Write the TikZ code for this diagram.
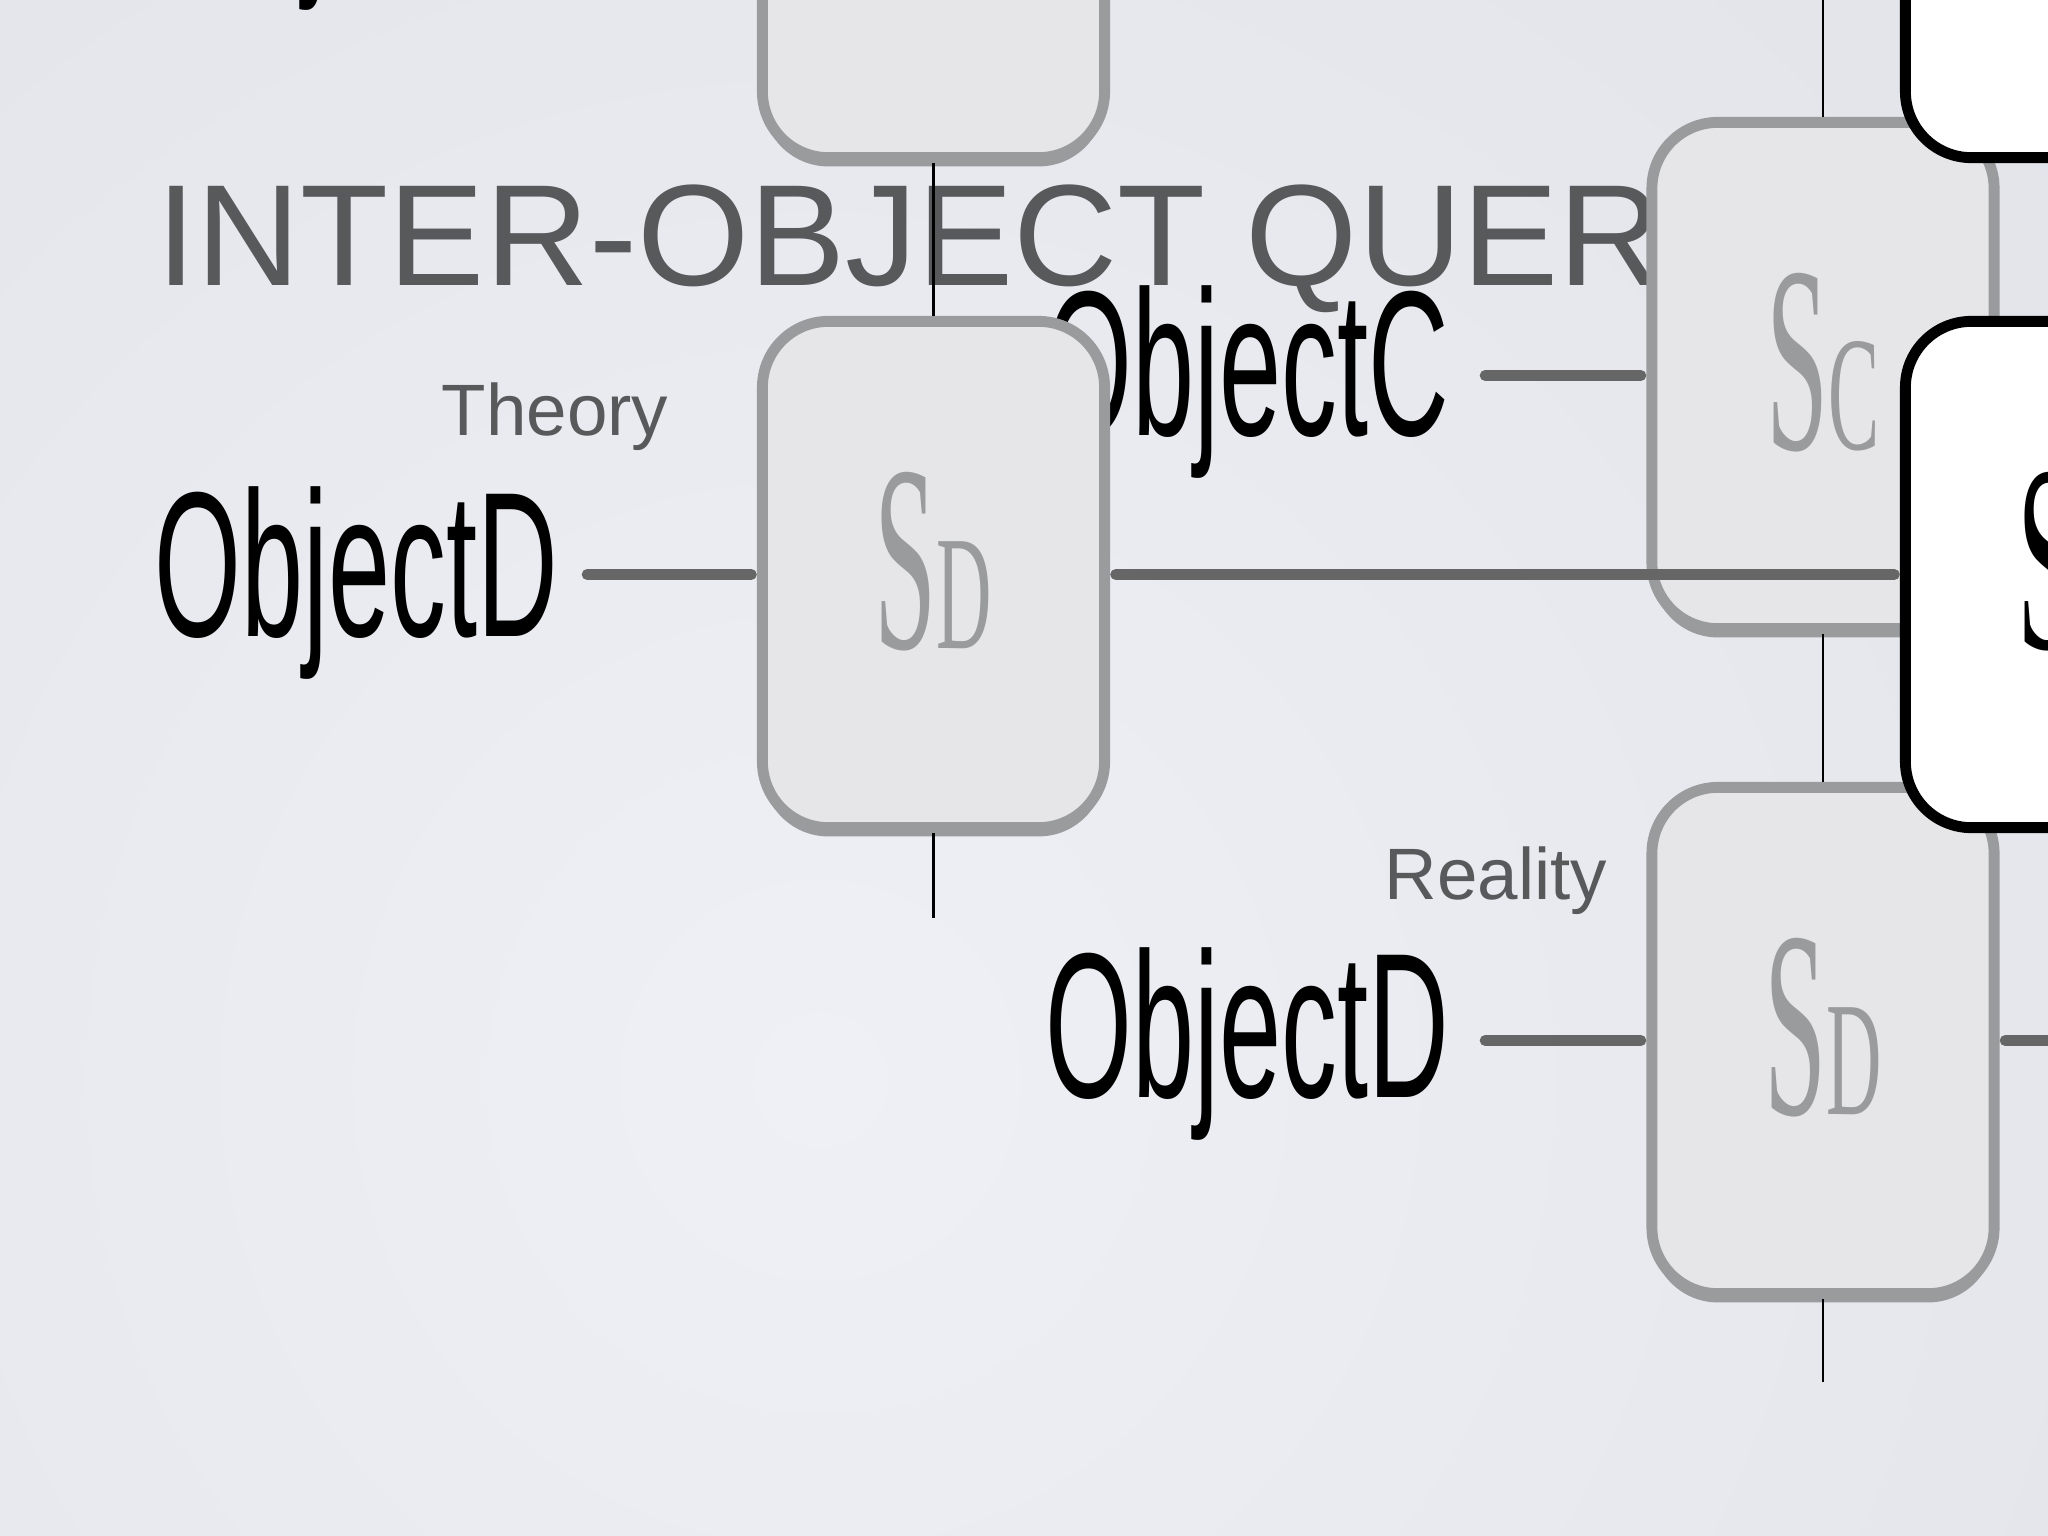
\documentclass[tikz,border=0pt]{standalone}
\usepackage{fontspec}
\usepackage{graphicx}
\usepackage{xcolor}
\setmainfont{Liberation Sans}
\newfontfamily\serifS{Liberation Serif}
\usetikzlibrary{shadows}

\definecolor{bgdark}{HTML}{D8DBE2}
\definecolor{bglight}{HTML}{EFF0F5}
\definecolor{titlegray}{HTML}{58595B}
\definecolor{boxline}{HTML}{9A9B9D}
\definecolor{boxfill}{HTML}{E6E6E8}
\definecolor{wirecol}{HTML}{666666}

\newcommand{\slab}[1]{\scalebox{0.42}[1]{\fontsize{75.7}{76}\selectfont S}\scalebox{0.47}[1]{\fontsize{46.4}{47}\selectfont #1}}
\newcommand{\objlab}[1]{\scalebox{0.54}[1]{\fontsize{58.8}{60}\selectfont #1}}

\tikzset{
  boxbase/.style={line width=3.1pt, rounded corners=0.66cm, minimum width=3.42cm, minimum height=5.06cm, inner sep=0pt, text depth=8pt, font=\serifS},
  sbox/.style={boxbase, draw=boxline, fill=boxfill, text=boxline, drop shadow={shadow xshift=0pt, shadow yshift=-2.5pt, fill=boxline, opacity=1}},
  wbox/.style={boxbase, draw=black, fill=white, text=black},
  objtext/.style={inner sep=0pt, text=black},
  sidetext/.style={inner sep=0pt, text=titlegray, font=\fontsize{20.7}{24}\selectfont},
  wire/.style={draw=wirecol, line width=3.1pt, line cap=round},
  stem/.style={draw=black, line width=0.6pt}
}

\begin{document}
\begin{tikzpicture}[x=0.01cm, y=-0.01cm]
\path[use as bounding box, clip] (0,0) rectangle (2048,1536);
\fill[bgdark] (0,0) rectangle (2048,1536);
\shade[inner color=bglight, outer color=bgdark] (820,1080) circle (28cm);

\node[objtext, anchor=base west] (objtop) at (153,-33) {\objlab{Object}};
\node[inner sep=0pt, text=titlegray, anchor=base west, font=\fontsize{41}{48}\selectfont] (title) at (156,285) {INTER-OBJECT QUER};
\node[sidetext, anchor=base west] (theory) at (441,435) {Theory};
\node[sidetext, anchor=base west] (reality) at (1384,899) {Reality};
\node[objtext, anchor=base east] (objD) at (559,636) {\objlab{ObjectD}};
\node[objtext, anchor=base east] (objC) at (1450,435) {\objlab{ObjectC}};
\node[objtext, anchor=base east] (objD2) at (1450,1097) {\objlab{ObjectD}};

\node[sbox] (top) at (933.5,-95.5) {};
\node[sbox] (sd) at (933.5,574.5) {\slab{D}};
\node[sbox] (sc) at (1823,375.5) {\slab{C}};
\node[sbox] (sd2) at (1823,1040.5) {\slab{D}};
\node[wbox] (wtop) at (2076.5,-95.5) {};
\node[wbox] (wmid) at (2076.5,574.5) {\slab{\phantom{D}}};

\coordinate (sdfoot) at (933.5,918);
\coordinate (sctop) at (1823,-10);
\coordinate (sd2foot) at (1823,1382);
\coordinate (redge) at (2070,1040.5);

% connectors
\draw[wire, shorten <=8pt, shorten >=1.6pt] (sd.west -| objD.east) -- (sd.west);
\draw[wire, shorten <=10pt, shorten >=1.6pt] (sc.west -| objC.east) -- (sc.west);
\draw[wire, shorten <=10pt, shorten >=1.6pt] (sd2.west -| objD2.east) -- (sd2.west);
\draw[wire, shorten <=1.6pt, shorten >=1.6pt] (sd.east) -- (wmid.west);
\draw[wire, shorten <=1.6pt] (sd2.east) -- (redge);

\draw[stem] (top.south) -- (sd.north);
\draw[stem] (sd.south) -- (sdfoot);
\draw[stem] (sctop) -- (sc.north);
\draw[stem] (sc.south) -- (sd2.north);
\draw[stem] (sd2.south) -- (sd2foot);
\end{tikzpicture}
\end{document}
